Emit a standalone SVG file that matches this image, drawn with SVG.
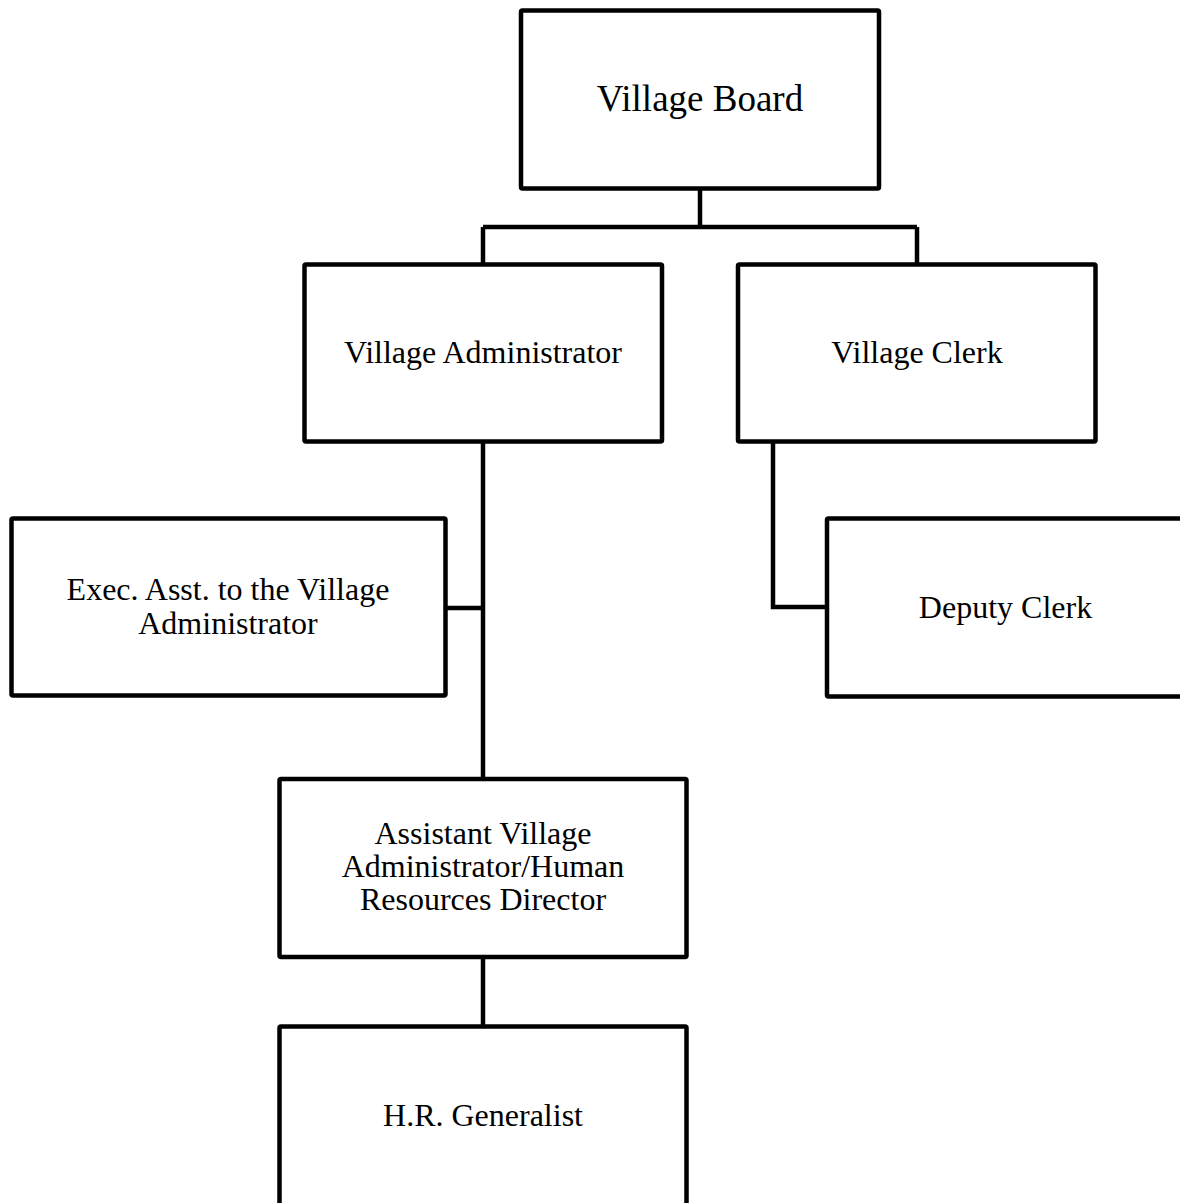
<svg xmlns="http://www.w3.org/2000/svg" width="1180" height="1203" viewBox="0 0 1180 1203">
<style>
.box{fill:#fff;stroke:#000;stroke-width:4.5}
.ln{fill:none;stroke:#000;stroke-width:4.5;stroke-linejoin:miter}
.t{font-family:"Liberation Serif","Times New Roman",serif;font-size:32px;fill:#000;text-anchor:middle}
.big{font-size:37px}
</style>
<rect width="1180" height="1203" fill="#fff"/>
<g id="connectors">
<path class="ln" d="M700,188.5 V227 M483,227 H917 M483,227 V264.5 M917,227 V264.5"/>
<path class="ln" d="M483,441.5 V779"/>
<path class="ln" d="M445.5,608 H483"/>
<path class="ln" d="M773,441.5 V607 H827"/>
<path class="ln" d="M483,957 V1026.5"/>
</g>
<g id="village-board">
<rect class="box" x="521" y="10.5" width="358" height="178" rx="1.5"/>
<text class="t big" x="700" y="111">Village Board</text>
</g>
<g id="village-administrator">
<rect class="box" x="304.5" y="264.5" width="357.5" height="177" rx="1.5"/>
<text class="t" x="483" y="363">Village Administrator</text>
</g>
<g id="village-clerk">
<rect class="box" x="738" y="264.5" width="357.5" height="177" rx="1.5"/>
<text class="t" x="917" y="363">Village Clerk</text>
</g>
<g id="exec-asst">
<rect class="box" x="11.5" y="518.5" width="434" height="177" rx="1.5"/>
<text class="t" x="228" y="600">Exec. Asst. to the Village</text>
<text class="t" x="228" y="633.5">Administrator</text>
</g>
<g id="deputy-clerk">
<rect class="box" x="827" y="518.5" width="400" height="178" rx="1.5"/>
<text class="t" x="1005.5" y="618">Deputy Clerk</text>
</g>
<g id="asst-village-administrator">
<rect class="box" x="279.5" y="779" width="407" height="178" rx="1.5"/>
<text class="t" x="483" y="843.5">Assistant Village</text>
<text class="t" x="483" y="877">Administrator/Human</text>
<text class="t" x="483" y="910">Resources Director</text>
</g>
<g id="hr-generalist">
<rect class="box" x="279.5" y="1026.5" width="407" height="200" rx="1.5"/>
<text class="t" x="483" y="1125.5">H.R. Generalist</text>
</g>
</svg>
